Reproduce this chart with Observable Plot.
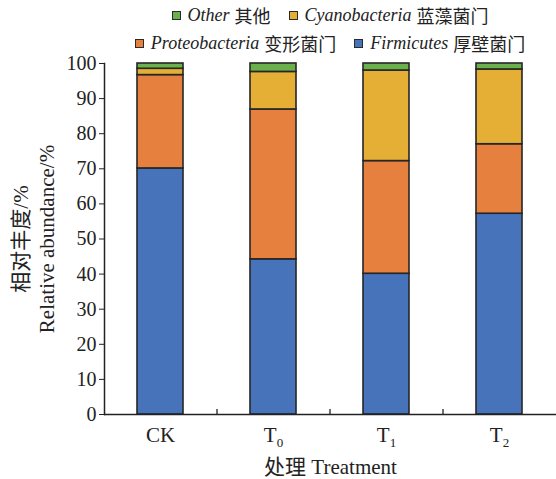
<!DOCTYPE html>
<html><head><meta charset="utf-8">
<script src="https://cdn.jsdelivr.net/npm/d3@7"></script>
<script src="https://cdn.jsdelivr.net/npm/@observablehq/plot@0.6"></script>
<style>
body{margin:0;background:#fff;font-family:"Liberation Serif","Noto Sans CJK SC",serif;color:#222;}
#legend{width:556px;height:48px;box-sizing:border-box;padding-left:104px;padding-top:1px;font-size:18px;position:relative;z-index:1;}
.row{display:flex;justify-content:center;gap:18px;height:28px;align-items:center;}
.item{display:flex;align-items:center;white-space:nowrap;}
.sw{width:7px;height:7px;border:1.6px solid #2a2a2a;margin-right:7px;}
i{margin-right:5px;}
#chart{line-height:0;}
</style></head>
<body>
<div id="legend"></div>
<div id="chart"></div>
<script>
const categories = ["CK","T0","T1","T2"];
const series = ["Firmicutes","Proteobacteria","Cyanobacteria","Other"];
const seriesCN = ["厚壁菌门","变形菌门","蓝藻菌门","其他"];
const colors = ["#4673b9","#e5803f","#e5af36","#6ab04c"];
const firmicutes = [70.1,44.2,40.1,57.2];
const proteobacteria = [26.6,42.7,32.1,19.8];
const cyanobacteria = [1.8,10.7,25.8,21.3];
const other = [1.5,2.4,2.0,1.7];
const yTicks = [0,10,20,30,40,50,60,70,80,90,100];
const legendRows = [["Other","Cyanobacteria"],["Proteobacteria","Firmicutes"]];
const yTitle = "相对丰度/%\nRelative abundance/%";
const xTitle = "处理 Treatment";

const valuesBySeries = [firmicutes, proteobacteria, cyanobacteria, other];
const rows = [];
categories.forEach((c, i) => series.forEach((s, j) => rows.push({cat: c, series: s, value: valuesBySeries[j][i]})));

// legend
const leg = d3.select("#legend");
legendRows.forEach(r => {
  const row = leg.append("div").attr("class","row");
  r.forEach(s => {
    const k = series.indexOf(s);
    const it = row.append("div").attr("class","item");
    it.append("div").attr("class","sw").style("background", colors[k]);
    it.append("i").text(s);
    it.append("span").text(seriesCN[k]);
  });
});

const chart = Plot.plot({
  width: 556, height: 431,
  marginLeft: 104, marginRight: 0, marginTop: 15, marginBottom: 65,
  style: {fontFamily: '"Liberation Serif","Noto Sans CJK SC",serif', fontSize: "20px", color: "#222", background: "transparent"},
  x: {domain: categories, paddingInner: 0.59, paddingOuter: 0.295},
  y: {domain: [0, 100]},
  color: {domain: series, range: colors},
  marks: [
    Plot.barY(rows, {x: "cat", y: "value", fill: "series", order: series, stroke: "#262626", strokeWidth: 1.6}),
    Plot.frame({anchor: "left", stroke: "#222", strokeWidth: 1.5}),
    Plot.ruleY([0], {stroke: "#222", strokeWidth: 1.5}),
    Plot.ruleX(categories.slice(0, 3), {x: d => d, y1: 0, y2: 1.45, dx: 56.5, stroke: "#222", strokeWidth: 1.3}),
    Plot.axisY({ticks: yTicks, tickSize: 5, tickPadding: 3, fontSize: 20, label: null, stroke: "#222"}),
    Plot.axisX({tickSize: 0, tickPadding: 13, fontSize: 21, label: xTitle, labelAnchor: "center", labelOffset: 59}),
    Plot.text([yTitle], {frameAnchor: "left", text: d => d, rotate: -90, dx: -72, lineHeight: 1.24, fontSize: 21, textAnchor: "middle", lineAnchor: "middle", fill: "#222"})
  ]
});
document.getElementById("chart").appendChild(chart);

d3.select(chart).selectAll('g[aria-label="x-axis tick label"] text').each(function() {
  const m = this.textContent.match(/^T(\d)$/);
  if (m) {
    this.textContent = "T";
    d3.select(this).append("tspan").attr("font-size", "13px").attr("dy", "0.35em").text(m[1]);
  }
});
</script>
</body></html>
